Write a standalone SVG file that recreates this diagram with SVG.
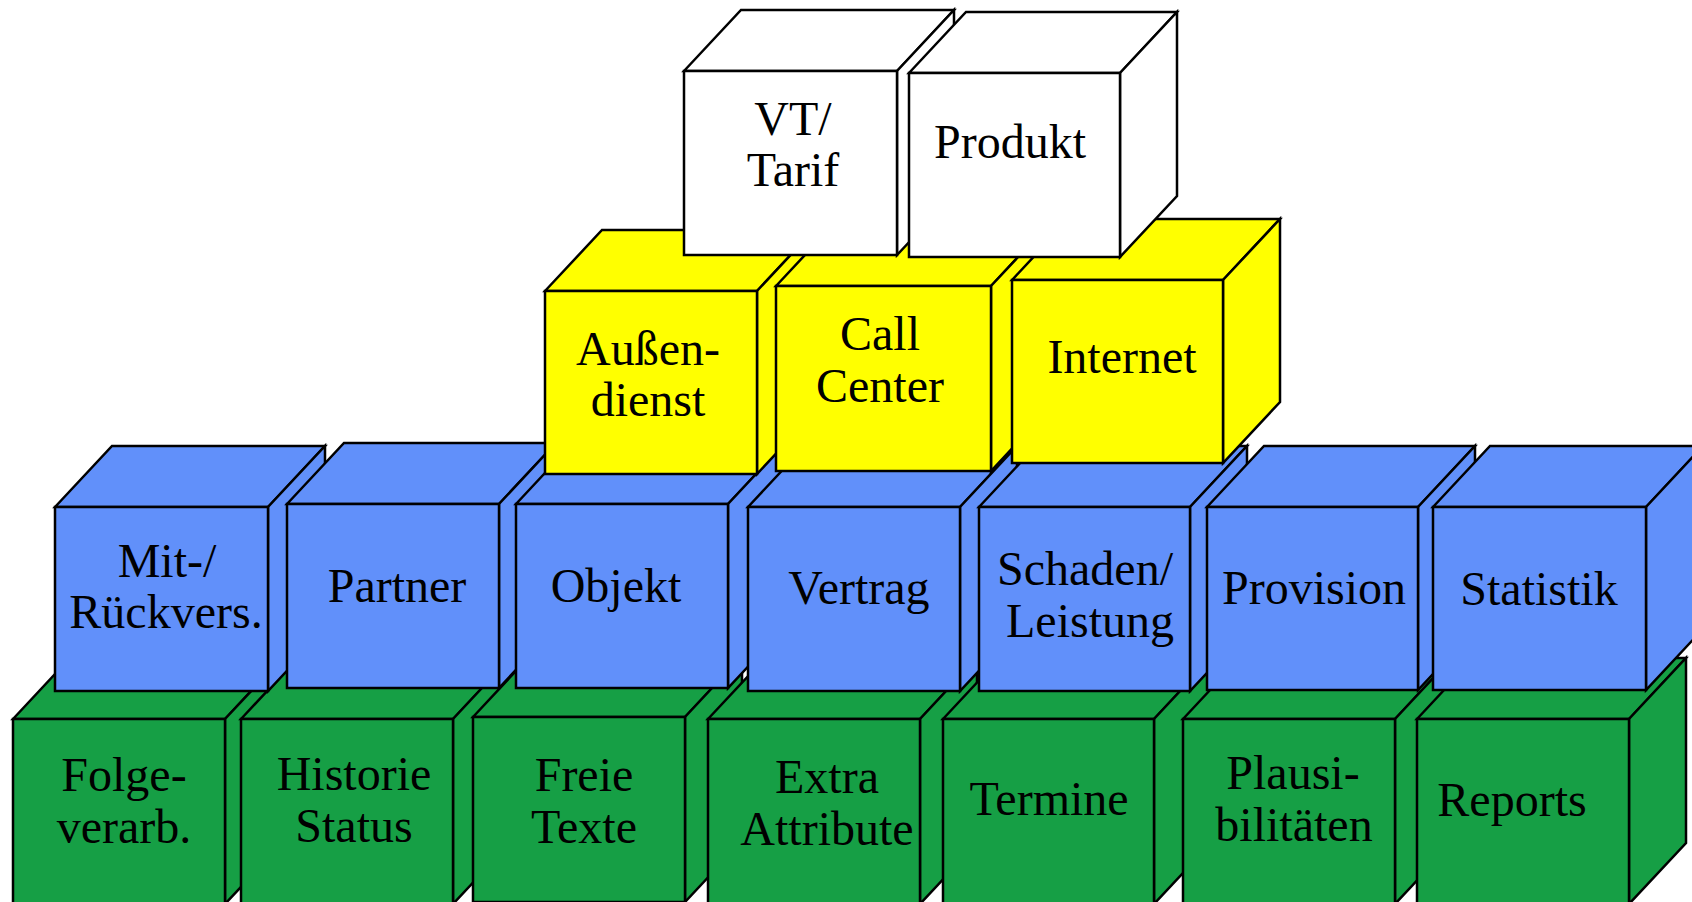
<svg xmlns="http://www.w3.org/2000/svg" width="1692" height="902" viewBox="0 0 1692 902">
  <style>
    .cube polygon, .cube rect { stroke: #000; stroke-width: 2.5; stroke-linejoin: miter; }
    .g { fill: #169f45; }
    .b { fill: #6190fa; }
    .y { fill: #ffff00; }
    .w { fill: #ffffff; }
    text { font-family: "Liberation Serif", "Times New Roman", serif; font-size: 48px; fill: #000; text-anchor: middle; }
  </style>
  <rect x="0" y="0" width="1692" height="902" fill="#fff"/>

  <!-- bottom row: green cubes -->
  <g id="folge" class="cube g">
    <polygon points="13,719 70,658 282,658 225,719"/>
    <polygon points="225,719 282,658 282,843 225,904"/>
    <rect x="13" y="719" width="212" height="185"/>
    <text x="124" y="791">Folge-</text>
    <text x="124" y="843">verarb.</text>
  </g>
  <g id="historie" class="cube g">
    <polygon points="241,719 298,658 510,658 453,719"/>
    <polygon points="453,719 510,658 510,843 453,904"/>
    <rect x="241" y="719" width="212" height="185"/>
    <text x="354" y="790">Historie</text>
    <text x="354" y="842">Status</text>
  </g>
  <g id="freie-texte" class="cube g">
    <polygon points="473,717 530,656 742,656 685,717"/>
    <polygon points="685,717 742,656 742,841 685,902"/>
    <rect x="473" y="717" width="212" height="185"/>
    <text x="584" y="791">Freie</text>
    <text x="584" y="843">Texte</text>
  </g>
  <g id="extra-attribute" class="cube g">
    <polygon points="708,719 765,658 977,658 920,719"/>
    <polygon points="920,719 977,658 977,843 920,904"/>
    <rect x="708" y="719" width="212" height="185"/>
    <text x="827" y="793">Extra</text>
    <text x="827" y="845">Attribute</text>
  </g>
  <g id="termine" class="cube g">
    <polygon points="943,719 1000,658 1211,658 1154,719"/>
    <polygon points="1154,719 1211,658 1211,843 1154,904"/>
    <rect x="943" y="719" width="211" height="185"/>
    <text x="1049" y="815">Termine</text>
  </g>
  <g id="plausi" class="cube g">
    <polygon points="1183,719 1240,658 1452,658 1395,719"/>
    <polygon points="1395,719 1452,658 1452,843 1395,904"/>
    <rect x="1183" y="719" width="212" height="185"/>
    <text x="1293" y="789">Plausi-</text>
    <text x="1294" y="841">bilitäten</text>
  </g>
  <g id="reports" class="cube g">
    <polygon points="1417,719 1474,658 1686,658 1629,719"/>
    <polygon points="1629,719 1686,658 1686,843 1629,904"/>
    <rect x="1417" y="719" width="212" height="185"/>
    <text x="1512" y="816">Reports</text>
  </g>

  <!-- middle row: blue cubes -->
  <g id="mitrueck" class="cube b">
    <polygon points="55,507 112,446 325,446 268,507"/>
    <polygon points="268,507 325,446 325,630 268,691"/>
    <rect x="55" y="507" width="213" height="184"/>
    <text x="167" y="577">Mit-/</text>
    <text x="166" y="628">Rückvers.</text>
  </g>
  <g id="partner" class="cube b">
    <polygon points="287,504 344,443 556,443 499,504"/>
    <polygon points="499,504 556,443 556,627 499,688"/>
    <rect x="287" y="504" width="212" height="184"/>
    <text x="397" y="602">Partner</text>
  </g>
  <g id="objekt" class="cube b">
    <polygon points="516,504 573,443 785,443 728,504"/>
    <polygon points="728,504 785,443 785,627 728,688"/>
    <rect x="516" y="504" width="212" height="184"/>
    <text x="616" y="602">Objekt</text>
  </g>
  <g id="vertrag" class="cube b">
    <polygon points="748,507 805,446 1017,446 960,507"/>
    <polygon points="960,507 1017,446 1017,630 960,691"/>
    <rect x="748" y="507" width="212" height="184"/>
    <text x="859" y="604">Vertrag</text>
  </g>
  <g id="schaden" class="cube b">
    <polygon points="979,507 1036,446 1247,446 1190,507"/>
    <polygon points="1190,507 1247,446 1247,630 1190,691"/>
    <rect x="979" y="507" width="211" height="184"/>
    <text x="1085" y="585">Schaden/</text>
    <text x="1090" y="637">Leistung</text>
  </g>
  <g id="provision" class="cube b">
    <polygon points="1207,507 1264,446 1475,446 1418,507"/>
    <polygon points="1418,507 1475,446 1475,629 1418,690"/>
    <rect x="1207" y="507" width="211" height="183"/>
    <text x="1314" y="604">Provision</text>
  </g>
  <g id="statistik" class="cube b">
    <polygon points="1433,507 1490,446 1703,446 1646,507"/>
    <polygon points="1646,507 1703,446 1703,629 1646,690"/>
    <rect x="1433" y="507" width="213" height="183"/>
    <text x="1539" y="605">Statistik</text>
  </g>

  <!-- channel row: yellow cubes -->
  <g id="aussendienst" class="cube y">
    <polygon points="545,291 602,230 814,230 757,291"/>
    <polygon points="757,291 814,230 814,413 757,474"/>
    <rect x="545" y="291" width="212" height="183"/>
    <text x="648" y="365">Außen-</text>
    <text x="648" y="416">dienst</text>
  </g>
  <g id="callcenter" class="cube y">
    <polygon points="776,286 833,225 1048,225 991,286"/>
    <polygon points="991,286 1048,225 1048,410 991,471"/>
    <rect x="776" y="286" width="215" height="185"/>
    <text x="880" y="350">Call</text>
    <text x="880" y="402">Center</text>
  </g>
  <g id="internet" class="cube y">
    <polygon points="1012,280 1069,219 1280,219 1223,280"/>
    <polygon points="1223,280 1280,219 1280,402 1223,463"/>
    <rect x="1012" y="280" width="211" height="183"/>
    <text x="1122" y="373">Internet</text>
  </g>

  <!-- top row: white cubes -->
  <g id="vt-tarif" class="cube w">
    <polygon points="684,71 741,10 954,10 897,71"/>
    <polygon points="897,71 954,10 954,194 897,255"/>
    <rect x="684" y="71" width="213" height="184"/>
    <text x="793" y="135">VT/</text>
    <text x="793" y="186">Tarif</text>
  </g>
  <g id="produkt" class="cube w">
    <polygon points="909,73 966,12 1177,12 1120,73"/>
    <polygon points="1120,73 1177,12 1177,196 1120,257"/>
    <rect x="909" y="73" width="211" height="184"/>
    <text x="1010" y="158">Produkt</text>
  </g>

  <g id="connectors"/>
</svg>
